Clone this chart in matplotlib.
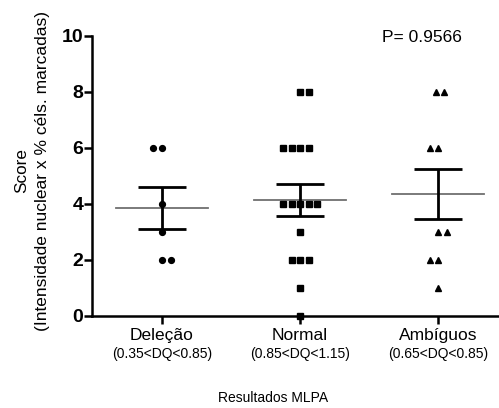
import numpy as np
import matplotlib.pyplot as plt
import matplotlib.transforms as mtransforms

plt.rcParams['font.family'] = ['Liberation Sans', 'DejaVu Sans']

groups = ["Deleção", "Normal", "Ambíguos"]
ranges = ["(0.35<DQ<0.85)", "(0.85<DQ<1.15)", "(0.65<DQ<0.85)"]

dele_vals = [6, 6, 4, 3, 2, 2]
dele_slots = [-1, 0, 0, 0, 0, 1]
norm_vals = [8, 8, 6, 6, 6, 6, 4, 4, 4, 4, 4, 3, 2, 2, 2, 1, 0]
norm_slots = [0, 1, -2, -1, 0, 1, -2, -1, 0, 1, 2, 0, -1, 0, 1, 0, 0]
amb_vals = [8, 8, 6, 6, 3, 3, 2, 2, 1]
amb_slots = [-0.3, 0.7, -1, 0, 0, 1, -1, 0, 0]

all_vals = [dele_vals, norm_vals, amb_vals]
all_slots = [dele_slots, norm_slots, amb_slots]
markers = ["o", "s", "^"]
p_text = "P= 0.9566"

W, H = 499, 408
fig = plt.figure(figsize=(W / 100, H / 100), dpi=100)
ax = fig.add_axes([91.5 / W, (H - 315.5) / H, 1 - 91.5 / W, 280 / H])

step = 0.062
for i, (vals, slots) in enumerate(zip(all_vals, all_slots)):
    xc = i + 1
    v = np.array(vals, dtype=float)
    xs = xc + np.array(slots) * step
    ax.plot(xs, v, linestyle="none", marker=markers[i], color="black",
            markersize=4.2 if i < 2 else 4.6, clip_on=False, zorder=4)
    m = v.mean()
    sem = v.std(ddof=1) / np.sqrt(len(v))
    ax.plot([xc - 0.335, xc + 0.335], [m, m], color="#707070", lw=1.3, zorder=3)
    ax.errorbar([xc], [m], yerr=[sem], fmt="none", ecolor="black",
                elinewidth=2.0, capsize=17, capthick=2.0, zorder=5)

ax.set_xlim(0.49, 3.44)
ax.set_ylim(0, 10)
ax.set_yticks([0, 2, 4, 6, 8, 10])
ax.set_xticks([1, 2, 3])
ax.set_xticklabels(groups, fontsize=12.5)
for lab in ax.get_yticklabels():
    lab.set_fontweight("bold")
    lab.set_fontsize(14)

for s in ["top", "right"]:
    ax.spines[s].set_visible(False)
for s in ["left", "bottom"]:
    ax.spines[s].set_linewidth(1.8)
ax.tick_params(axis="both", width=1.8, length=6, direction="out")
ax.tick_params(axis="y", pad=0)
ax.tick_params(axis="x", pad=3)

trans = mtransforms.blended_transform_factory(ax.transData, fig.transFigure)
for i, r in enumerate(ranges):
    ax.text(i + 1, (H - 354) / H, r, transform=trans,
            fontsize=10, ha="center", va="center")

fig.text(273 / W, (H - 398) / H, "Resultados MLPA", fontsize=10,
         ha="center", va="center")
fig.text(21.5 / W, (H - 171) / H, "Score", rotation=90, fontsize=12.3,
         ha="center", va="center")
fig.text(43 / W, (H - 171) / H, "(Intensidade nuclear x % céls. marcadas)",
         rotation=90, fontsize=12.5, ha="center", va="center")
fig.text(422 / W, (H - 37) / H, p_text, fontsize=12.5, ha="center", va="center")

fig.savefig("out.png", dpi=100)
